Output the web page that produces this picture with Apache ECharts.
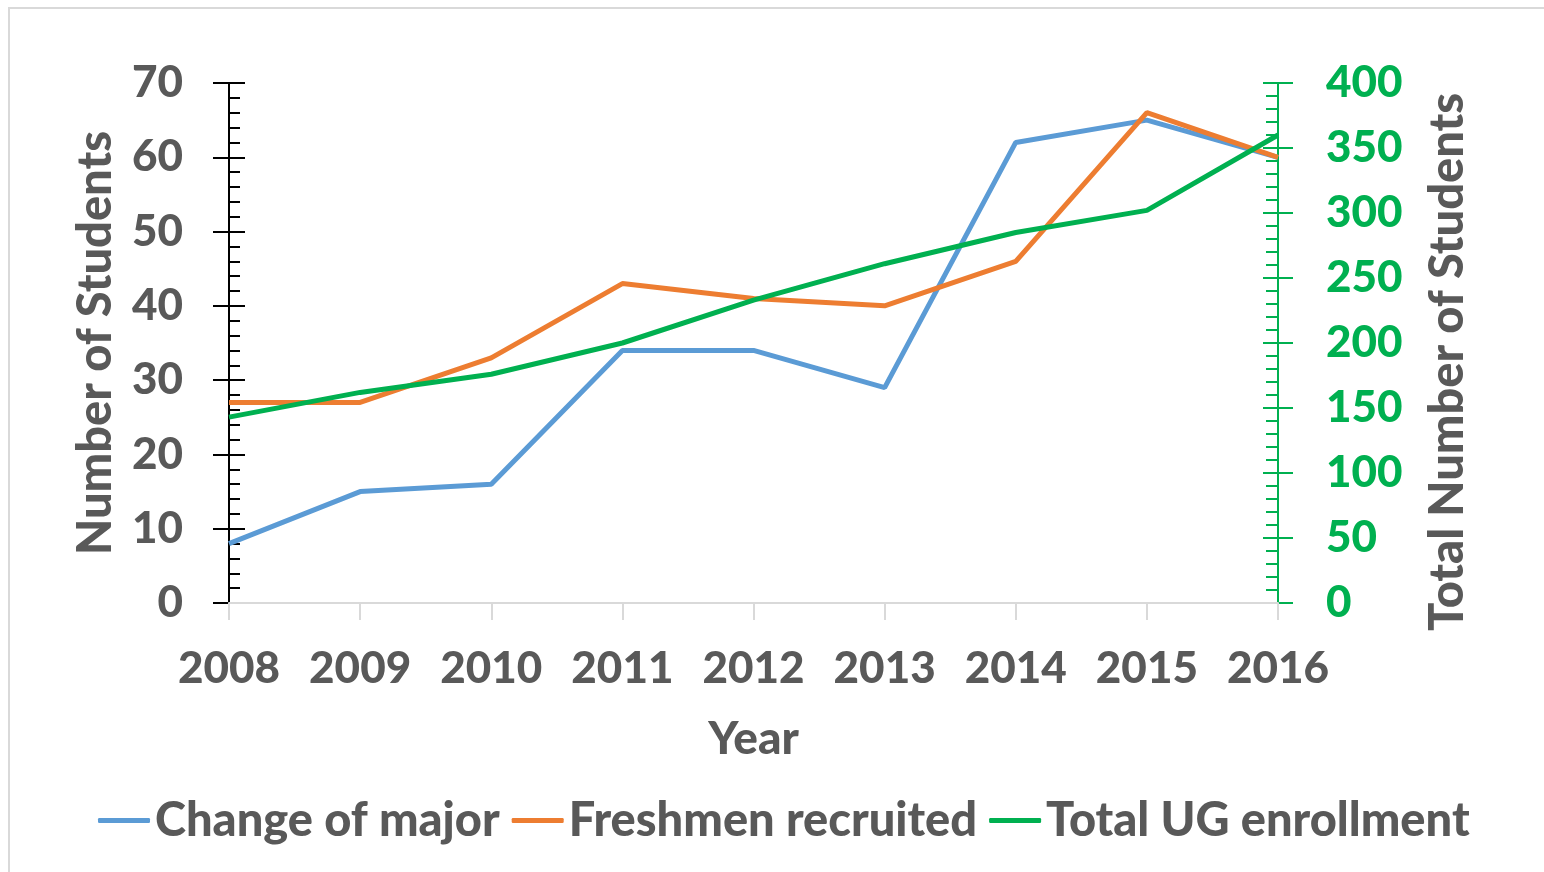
<!DOCTYPE html>
<html>
<head>
<meta charset="utf-8">
<script src="https://cdn.jsdelivr.net/npm/echarts@6/dist/echarts.min.js"></script>
<style>
  html, body { margin: 0; padding: 0; background: #fff; }
  #chart { width: 1544px; height: 872px; }
</style>
</head>
<body>
<div id="chart"></div>
<script>
const years = ["2008", "2009", "2010", "2011", "2012", "2013", "2014", "2015", "2016"];
const changeOfMajor = [8, 15, 16, 34, 34, 29, 62, 65, 60];
const freshmenRecruited = [27, 27, 33, 43, 41, 40, 46, 66, 60];
const totalUgEnrollment = [143, 162, 176, 200, 233, 261, 285, 302, 360];

const textGray = "#595959";
const green = "#00B050";
const font = "Lato";
const weight = 900;

const chart = echarts.init(document.getElementById("chart"));

// left axis: outer half of major ticks + labels
const leftBase = {
  type: "value",
  position: "left",
  min: 0,
  max: 70,
  interval: 10,
  splitLine: { show: false },
  axisLine: { show: true, lineStyle: { color: "#000", width: 2 } },
};
// right axis (green)
const rightBase = {
  type: "value",
  position: "right",
  min: 0,
  max: 400,
  interval: 50,
  splitLine: { show: false },
  axisLine: { show: true, lineStyle: { color: green, width: 2 } },
};

chart.setOption({
  animation: false,
  textStyle: { fontFamily: font },
  graphic: [
    {
      type: "rect",
      shape: { x: 9, y: 8, width: 1600, height: 900 },
      style: { fill: "none", stroke: "#D9D9D9", lineWidth: 2 },
      silent: true,
    },
  ],
  grid: { left: 229, right: 266, top: 83, bottom: 269, containLabel: false },
  legend: {
    bottom: 23,
    left: 93,
    itemWidth: 52,
    itemHeight: 5,
    itemGap: 12,
    icon: "roundRect",
    textStyle: { color: textGray, fontSize: 47, fontWeight: weight, fontFamily: font },
    data: ["Change of major", "Freshmen recruited", "Total UG enrollment"],
  },
  xAxis: {
    type: "category",
    data: years,
    boundaryGap: false,
    z: 1,
    name: "Year",
    nameLocation: "middle",
    nameGap: 113,
    nameTextStyle: { color: textGray, fontSize: 46, fontWeight: weight, fontFamily: font },
    axisLine: { lineStyle: { color: "#D9D9D9", width: 2 } },
    axisTick: { show: true, interval: 0, length: 17, lineStyle: { color: "#D9D9D9", width: 2 } },
    axisLabel: { color: textGray, fontSize: 44, fontWeight: weight, margin: 44, interval: 0, fontFamily: font },
    splitLine: { show: false },
  },
  yAxis: [
    Object.assign({}, leftBase, {
      name: "Number of Students",
      nameLocation: "middle",
      nameRotate: 90,
      nameGap: 110,
      nameTextStyle: { color: textGray, fontSize: 47, fontWeight: weight, fontFamily: font },
      axisTick: { show: true, inside: false, length: 16, lineStyle: { color: "#000", width: 2 } },
      axisLabel: { color: textGray, fontSize: 44, fontWeight: weight, margin: 46, fontFamily: font },
    }),
    // inner half of major ticks + minor ticks
    Object.assign({}, leftBase, {
      axisTick: { show: true, inside: true, length: 16, lineStyle: { color: "#000", width: 2 } },
      minorTick: { show: true, splitNumber: 5, length: 11, lineStyle: { color: "#000", width: 2 } },
      axisLabel: { show: false },
    }),
    Object.assign({}, rightBase, {
      name: "Total Number of Students",
      nameLocation: "middle",
      nameRotate: 90,
      nameGap: 146,
      nameTextStyle: { color: textGray, fontSize: 47, fontWeight: weight, fontFamily: font, padding: [0, 38, 0, 0] },
      axisTick: { show: true, inside: false, length: 15, lineStyle: { color: green, width: 2 } },
      axisLabel: { color: green, fontSize: 44, fontWeight: weight, margin: 48, align: "left", fontFamily: font },
    }),
    Object.assign({}, rightBase, {
      axisTick: { show: true, inside: true, length: 15, lineStyle: { color: green, width: 2 } },
      minorTick: { show: true, splitNumber: 5, length: 12, lineStyle: { color: green, width: 2 } },
      axisLabel: { show: false },
    }),
  ],
  series: [
    {
      name: "Change of major",
      type: "line",
      yAxisIndex: 0,
      data: changeOfMajor,
      symbol: "none",
      color: "#5B9BD5",
      lineStyle: { width: 5, color: "#5B9BD5" },
    },
    {
      name: "Freshmen recruited",
      type: "line",
      yAxisIndex: 0,
      data: freshmenRecruited,
      symbol: "none",
      color: "#ED7D31",
      lineStyle: { width: 5, color: "#ED7D31" },
    },
    {
      name: "Total UG enrollment",
      type: "line",
      yAxisIndex: 2,
      data: totalUgEnrollment,
      symbol: "none",
      color: green,
      lineStyle: { width: 5, color: green },
    },
  ],
});
</script>
</body>
</html>
